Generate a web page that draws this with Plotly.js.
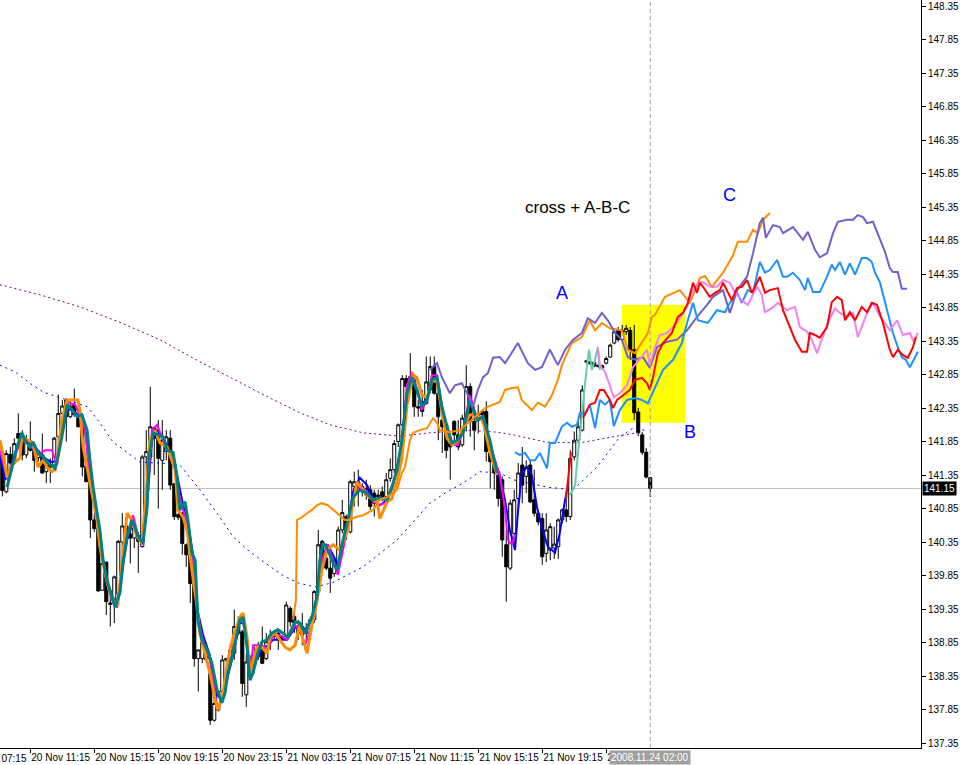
<!DOCTYPE html>
<html><head><meta charset="utf-8">
<script src="https://cdn.plot.ly/plotly-3.0.1.min.js"></script>
<style>html,body{margin:0;padding:0;background:#fff;}#chart{width:960px;height:765px;}</style>
</head><body><div id="chart"></div>
<script>
// ---- candles (15-minute bars) ----
const openP = [141.68,141.10,141.66,141.53,141.97,141.88,141.65,141.86,141.75,141.61,
141.65,141.40,141.50,141.50,141.92,142.27,142.47,142.22,142.40,142.26,
142.08,141.48,141.25,140.68,140.56,139.63,140.05,139.42,139.44,139.58,
140.35,140.59,140.47,140.41,140.41,140.28,141.62,141.62,142.06,141.97,
141.57,141.70,141.90,141.22,140.76,140.78,140.31,140.16,139.73,138.61,
138.61,138.59,138.39,137.69,137.84,138.12,138.61,138.61,138.69,139.11,
139.01,138.07,138.55,138.51,138.64,138.79,138.61,138.86,138.94,138.99,
138.94,138.94,139.36,139.24,138.99,139.09,138.99,139.06,139.19,139.61,
140.36,140.11,139.96,139.88,139.98,140.53,140.73,140.50,141.18,141.25,
141.18,141.05,141.13,141.08,141.05,141.10,141.03,141.30,141.43,141.85,
142.10,142.79,142.69,142.77,142.37,142.42,142.42,142.62,142.97,142.57,
142.17,142.10,141.87,142.15,141.95,141.80,142.20,142.67,142.15,142.17,
142.30,142.30,141.68,141.55,141.40,141.28,140.31,139.96,140.48,141.00,
141.50,141.33,141.50,140.98,140.78,140.70,140.18,140.23,140.26,140.28,
140.68,140.83,140.73,141.62,141.87,142.02,143.04,143.04,143.03,142.99,
142.98,143.02,143.11,143.32,143.51,143.37,143.49,143.51,143.22,142.29,
141.95,141.69,141.31];
const highP = [141.77,141.72,141.77,141.90,142.27,142.02,141.95,142.15,141.80,141.70,
141.97,141.57,141.60,141.92,142.55,142.47,142.50,142.47,142.64,142.37,
142.27,141.50,141.28,140.78,140.58,140.18,140.06,139.58,139.85,140.38,
140.78,140.73,140.53,140.68,140.50,141.65,142.02,142.67,142.07,142.17,
142.17,142.02,142.02,141.23,140.78,140.80,140.33,140.18,139.78,138.74,
138.91,138.66,138.42,138.07,138.14,138.66,138.62,138.84,139.34,139.24,
139.04,138.69,138.66,138.79,138.86,139.09,138.99,139.04,139.04,139.06,
138.96,139.46,139.39,139.29,139.19,139.29,139.14,139.24,139.63,140.53,
140.38,140.33,140.13,140.13,140.58,140.98,140.76,141.28,141.40,141.43,
141.23,141.28,141.20,141.13,141.13,141.18,141.38,141.60,141.87,142.12,
142.84,142.84,143.17,142.79,142.47,142.62,143.12,143.12,143.12,142.62,
142.22,142.12,141.97,142.17,142.17,142.25,142.99,142.72,142.37,142.40,
142.32,142.45,141.77,141.57,141.45,141.33,140.53,140.98,141.13,141.53,
141.77,141.57,141.57,141.43,140.80,140.78,140.78,140.63,140.58,140.70,
140.85,140.98,141.72,142.00,142.15,142.69,143.07,143.06,143.04,143.00,
143.00,143.12,143.31,143.54,143.56,143.59,143.59,143.56,143.59,142.35,
141.99,141.75,141.31];
const lowP = [141.03,141.08,141.35,141.50,141.87,141.57,141.60,141.70,141.40,141.55,
141.37,141.23,141.23,141.47,141.80,142.25,141.85,142.20,142.22,142.07,
141.33,141.25,140.41,140.50,139.61,139.62,139.26,139.09,139.14,139.54,
140.18,140.28,140.03,140.26,139.89,140.27,141.33,141.50,141.35,140.85,
141.13,141.57,141.13,140.68,140.68,140.16,139.98,139.44,138.49,138.12,
138.54,138.54,137.62,137.67,137.82,138.09,138.55,138.59,138.59,138.96,
138.04,137.89,138.34,138.39,138.59,138.54,138.59,138.74,138.89,138.74,
138.89,138.91,139.09,138.99,138.89,138.81,138.86,138.89,139.14,139.59,
139.98,139.93,139.59,139.83,139.93,140.48,140.38,140.48,140.88,140.88,
141.03,140.98,140.83,140.73,140.98,140.96,140.98,141.25,141.38,141.77,
142.07,142.37,142.62,142.22,142.22,142.22,142.40,142.57,142.55,141.87,
141.68,141.60,141.28,141.85,141.72,141.77,142.00,141.92,141.72,141.97,
142.12,141.55,141.15,141.13,140.88,140.13,139.46,139.93,140.28,140.78,
140.93,141.08,140.93,140.73,140.60,140.01,140.05,140.08,140.10,140.10,
140.63,140.65,140.68,141.57,141.82,142.00,143.02,142.99,142.96,142.95,
142.92,143.00,143.10,143.30,143.34,143.34,143.44,143.07,142.17,141.93,
141.65,141.30,141.02];
const closeP = [141.12,141.67,141.53,141.82,141.90,141.65,141.87,141.72,141.57,141.68,
141.38,141.50,141.47,141.90,142.27,142.38,142.22,142.38,142.25,142.07,
141.47,141.25,140.68,140.55,139.62,140.03,139.46,139.44,139.83,140.36,
140.59,140.48,140.41,140.56,140.36,141.62,141.70,142.07,141.90,141.60,
141.87,141.92,141.20,140.73,140.72,140.33,140.16,139.73,138.61,138.74,
138.86,138.64,137.69,137.94,138.12,138.59,138.59,138.74,139.09,138.99,
138.24,138.56,138.49,138.64,138.79,138.54,138.86,138.96,138.99,138.89,
138.91,139.41,139.16,139.14,139.09,138.96,139.05,139.19,139.61,140.31,
140.06,139.96,139.81,140.08,140.53,140.79,140.53,141.25,141.25,141.10,
141.10,141.15,140.88,140.93,141.03,141.03,141.28,141.43,141.82,142.10,
142.79,142.67,142.82,142.37,142.35,142.30,142.74,142.97,142.57,142.22,
142.07,141.72,141.77,141.95,141.77,142.20,142.67,142.15,142.02,142.27,
142.25,141.70,141.55,141.38,141.00,140.38,139.98,140.93,140.98,141.38,
141.20,141.47,140.95,140.78,140.65,140.13,140.53,140.58,140.32,140.68,
140.83,140.73,141.60,141.87,142.07,142.62,143.05,143.01,142.98,142.97,
142.95,143.09,143.29,143.49,143.37,143.51,143.54,143.21,142.28,141.98,
141.69,141.32,141.15];

// ---- time axis ----
const tickBars = [7,23,39,55,71,87,103,119,135,151];
const tickText = ["20 Nov 11:15","20 Nov 15:15","20 Nov 19:15","20 Nov 23:15","21 Nov 03:15",
                  "21 Nov 07:15","21 Nov 11:15","21 Nov 15:15","21 Nov 19:15","21 Nov 23:15"];
const cutLabel = "20 Nov 07:15";
const crossLabel = "2008.11.24 02:00";
const crossBar = 162;
const lastPrice = 141.15;

// ---- dotted averages ----
const purpleDotX = [-0.6,9.4,19.4,29.4,39.4,49.4,58.2,66.9,74.4,81.9,90.2,99.4,106.9,115.7,123.7,127.7,136.2,144.4,152.7,156.9,159.4];
const purpleDotY = [144.19,144.04,143.86,143.63,143.37,143.04,142.77,142.50,142.28,142.10,141.98,141.93,141.98,142.02,141.99,141.95,141.84,141.83,141.92,141.96,141.99];
const blueDotX = [-0.6,3.2,6.9,10.2,16.2,21.2,24.4,27.7,31.2,34.4,39.4,44.4,49.4,53.7,57.7,61.4,65.7,69.9,73.9,78.2,82.4,90.2,98.7,106.9,111.2,115.2,119.4,124.4,127.7,136.2,142.7,148.7,154.4,157.7,161.2];
const blueDotY = [142.99,142.89,142.72,142.59,142.47,142.37,142.13,141.84,141.69,141.54,141.53,141.50,141.13,140.78,140.43,140.23,140.04,139.86,139.74,139.68,139.74,139.98,140.38,140.93,141.10,141.23,141.40,141.38,141.28,141.17,141.13,141.47,141.92,142.05,142.01];

// ---- near-price lines ----
const tealX = [1.2,1.9,2.7,3.7,4.9,5.7,6.9,7.7,8.9,10.2,11.4,13.2,13.9,14.9,16.2,17.4,18.7,19.9,21.2,21.9,22.7,23.7,24.4,25.2,26.2,26.9,28.2,29.4,30.2,31.2,32.4,33.2,33.9,35.2,36.2,36.7,37.7,38.9,40.2,41.2,42.7,43.7,44.4,45.7,46.4,47.4,48.2,48.9,49.9,51.2,52.4,53.7,54.9,55.7,56.4,57.7,59.4,60.2,61.2,61.9,62.7,63.9,64.9,66.2,67.4,68.9,70.2,71.4,73.2,74.4,75.7,77.4,78.7,79.4,80.2,81.4,82.7,83.7,85.2,86.4,87.7,89.4,91.2,92.7,94.4,96.2,97.4,98.7,99.9,101.2,102.4,103.7,104.9,106.2,107.4,108.7,109.9,111.2,112.4,113.9,115.2,116.9,118.7,120.2,121.9,123.7];
const tealY = [141.17,141.32,141.53,141.77,141.98,141.87,141.77,141.84,141.69,141.62,141.53,141.45,141.62,141.92,142.40,142.32,142.22,142.25,142.02,141.57,141.17,140.78,140.53,140.08,139.78,139.63,139.38,139.59,140.04,140.43,140.68,140.57,140.43,140.34,140.87,141.62,141.98,141.95,141.92,141.72,141.69,141.32,140.83,140.95,140.68,140.19,140.08,139.19,138.89,138.74,138.54,138.14,137.95,138.10,138.40,138.69,139.19,139.23,138.78,138.29,138.40,138.69,138.86,138.89,138.99,139.04,138.99,138.93,139.16,139.14,138.99,139.23,139.53,140.08,140.34,140.23,140.04,139.93,140.38,140.68,141.02,141.13,141.08,140.98,141.01,140.98,141.17,141.43,141.87,142.57,142.81,142.62,142.37,142.47,142.77,142.81,142.37,142.07,141.83,141.87,141.98,142.47,142.17,142.22,141.87,141.38];
const orangeNearX = [-0.6,0.2,1.2,2.4,3.7,4.4,4.9,6.4,7.7,8.9,10.2,11.2,12.4,13.2,13.9,14.9,16.2,18.9,19.4,20.2,21.4,22.4,23.7,24.4,25.7,26.9,28.2,28.9,29.9,31.2,32.4,33.7,34.9,35.7,36.9,38.2,39.4,41.2,43.2,43.9,45.2,46.2,47.4,48.7,49.4,50.7,51.9,53.2,53.9,55.2,56.4,57.7,59.4,60.2,61.2,61.9,63.7,64.9,66.2,66.9,68.2,69.4,70.7,71.9,73.2,74.4,75.2,76.2,77.4,78.7,79.9,81.2,82.7,84.4,86.4,88.7,90.2,91.7,93.7,94.4,96.2,97.4,98.7,99.9,101.2,102.7,103.7,104.9,106.2,107.4,108.7,109.9,111.2,112.4,113.9,115.2,116.9,118.7,120.2,121.9,123.7];
const orangeNearY = [141.87,141.65,141.31,141.50,141.57,141.60,141.92,141.87,141.83,141.47,141.57,141.47,141.40,141.43,141.68,142.17,142.47,142.47,142.32,141.77,141.38,141.08,140.68,140.28,139.89,139.59,139.44,139.44,139.98,140.78,140.68,140.43,140.34,140.87,141.87,142.02,141.83,141.77,141.43,140.83,140.72,140.53,139.93,139.38,138.99,138.69,138.40,137.99,137.84,138.10,138.59,138.93,139.23,139.29,138.93,138.40,138.78,138.78,138.69,138.93,138.99,138.89,138.78,138.74,138.81,139.11,138.89,138.69,139.11,139.48,139.93,140.23,140.31,140.23,140.53,141.25,141.12,141.02,140.95,140.70,140.95,141.00,141.25,141.60,142.40,142.85,142.80,142.55,142.50,142.75,142.75,142.30,141.90,141.80,141.85,142.05,142.25,142.25,142.15,141.70,141.35];
const magentaX = [-0.6,0.7,1.9,3.2,4.9,6.9,8.9,10.7,12.4,13.7,14.9,16.2,18.2,19.4,20.7,21.4,22.4,23.7,24.9,26.2,27.4,28.7,29.9,31.2,32.7,33.9,35.2,36.2,37.4,38.7,40.2,41.4,42.7,43.9,45.2,46.4,47.7,48.9,50.2,51.9,53.7,54.9,56.2,57.7,59.4,60.7,61.9,62.7,64.9,66.4,67.7,69.4,71.2,73.2,74.4,75.7,77.4,78.7,79.9,81.4,82.7,83.9,85.2,86.4,87.7,89.4,91.2,92.7,94.4,96.2,97.4,98.7,99.9,101.2,102.4,103.7,104.9,106.2,107.4,108.7,109.9,111.2,112.4,113.9,115.2,116.9,118.7,120.2,121.9,123.2,124.4,125.7,126.4,127.4,128.2];
const magentaY = [141.72,141.43,141.35,141.65,141.87,141.80,141.65,141.72,141.72,141.50,142.02,142.44,142.40,142.25,142.02,141.57,141.05,140.68,140.16,139.71,139.49,139.37,139.86,140.46,140.75,140.46,140.31,140.98,142.02,142.10,141.87,141.72,141.65,141.13,140.83,140.60,140.08,139.19,138.89,138.59,137.87,137.99,138.37,138.74,139.19,139.11,138.37,138.81,138.81,138.74,138.96,138.96,138.89,139.11,139.04,138.81,139.11,139.49,140.08,140.31,140.08,139.86,140.23,140.57,140.98,141.20,141.10,140.95,140.90,140.95,141.13,141.43,141.87,142.69,142.89,142.62,142.32,142.47,142.84,142.84,142.40,142.02,141.80,141.80,142.02,142.54,142.20,142.17,141.80,141.57,141.35,140.83,140.38,140.31,140.46];
const blueX = [-0.6,0.7,1.9,3.2,4.9,6.9,8.9,10.7,12.4,13.7,14.9,16.2,18.2,19.4,20.7,21.4,22.4,23.7,24.9,26.2,27.4,28.7,29.9,31.2,32.7,33.9,35.2,36.2,37.4,38.7,40.2,41.4,42.7,43.9,45.2,46.4,47.7,48.9,50.2,51.9,53.7,54.9,56.2,57.7,59.4,60.7,61.9,62.7,64.9,66.4,67.7,69.4,71.2,73.2,74.4,75.7,77.4,78.7,79.9,81.4,82.7,83.9,85.2,86.4,87.7,89.4,91.2,92.7,94.4,96.2,97.4,98.7,99.9,101.2,102.4,103.7,104.9,106.2,107.4,108.7,109.9,111.2,112.4,113.9,115.2,116.9,118.7,120.2,121.9,123.2,124.4,125.7,126.9,128.2,128.9,129.9,131.2,132.4,133.7,134.9,136.4,138.2,139.4,140.7,141.2];
const blueY = [141.65,141.28,141.43,141.69,141.92,141.80,141.72,141.60,141.54,141.57,141.95,142.35,142.29,142.20,142.05,141.65,141.20,140.75,140.16,139.78,139.56,139.41,139.93,140.38,140.65,140.46,140.38,140.90,141.87,142.02,141.92,141.75,141.65,141.28,140.90,140.65,140.16,139.31,138.96,138.66,138.07,137.99,138.32,138.66,139.16,139.11,138.41,138.51,138.74,138.81,138.89,138.89,138.89,139.07,139.11,139.04,139.19,139.56,140.08,140.31,140.16,140.01,140.31,140.65,141.10,141.31,141.20,140.98,140.90,140.98,141.16,141.43,141.87,142.62,142.77,142.59,142.40,142.50,142.77,142.80,142.35,142.05,141.84,141.87,141.99,142.44,142.17,142.20,141.84,141.43,141.31,140.98,140.53,140.23,140.78,141.38,141.47,141.35,140.87,140.57,140.28,140.19,140.49,140.98,141.13];

// ---- projection lines ----
const orangeFarX = [72.7,73.4,73.7,74.9,76.2,77.4,78.7,79.9,81.4,82.7,84.4,85.7,86.9,88.2,90.2,92.7,94.4,96.2,98.7,99.9,100.7,101.9,102.7,104.4,106.2,107.7,108.7,109.4,111.9,114.4,116.9,118.7,120.7,122.7,124.4,125.7,127.4,128.9,129.9,132.4,133.9,135.7,137.4,138.9,139.9,142.4,144.9,146.9,148.2,149.9,151.9,154.9,156.4,158.2,159.9,161.4,162.4,163.2,165.7,169.4,171.9,174.4,175.7,177.4,180.2,182.7,183.9,186.2,187.7,188.9,190.2,191.9];
const orangeFarY = [139.19,139.48,140.68,140.72,140.78,140.83,140.90,140.93,140.90,140.83,140.75,140.68,140.68,140.72,140.75,140.83,140.98,141.02,141.13,141.38,141.47,141.87,141.98,142.02,142.05,142.20,142.13,142.02,141.99,142.02,142.15,142.25,142.35,142.40,142.44,142.62,142.65,142.66,142.47,142.32,142.43,142.37,142.54,142.77,142.99,143.32,143.41,143.66,143.51,143.62,143.54,143.51,143.22,143.17,143.32,143.47,143.71,143.74,144.01,144.11,143.92,144.29,144.32,144.16,144.37,144.63,144.83,144.83,145.01,144.96,145.16,145.26];
const purpleX = [106.9,108.7,109.9,111.9,113.2,114.9,116.2,117.7,118.9,120.2,121.4,122.7,124.4,125.7,128.9,131.4,133.2,134.9,136.9,138.9,140.7,142.7,144.9,146.4,148.2,149.9,151.4,153.2,154.9,156.4,158.2,160.2,161.9,163.7,166.2,168.7,171.2,173.7,176.2,177.7,180.2,181.9,183.7,186.2,187.7,189.4,190.2,190.9,192.7,194.4,195.2,197.7,200.2,201.4,203.2,204.4,206.2,207.7,208.9,211.2,212.7,213.9,215.2,216.2,217.7,219.4,220.7,221.9,222.7,223.9,224.9,226.2];
const purpleY = [142.92,143.02,142.81,142.57,142.69,142.72,142.57,142.37,142.62,142.81,142.87,143.10,143.11,143.02,143.32,143.02,142.92,142.96,143.22,142.99,143.22,143.37,143.47,143.69,143.62,143.77,143.66,143.47,143.37,143.11,143.07,143.11,142.95,143.26,143.34,143.37,143.51,143.71,143.89,144.01,144.11,143.77,144.11,144.31,144.66,145.11,145.19,144.89,145.08,145.05,144.96,145.05,144.86,144.98,144.71,144.60,144.66,144.96,145.13,145.16,145.16,145.23,145.20,145.11,145.13,144.86,144.68,144.44,144.38,144.38,144.13,144.13];
const dodgerX = [128.2,129.4,130.7,131.9,133.2,134.4,136.2,136.9,138.2,139.9,141.2,142.4,143.7,144.4,145.7,146.9,148.2,149.4,150.7,151.9,152.9,154.4,156.2,158.2,159.9,161.4,162.7,165.2,167.7,169.9,171.2,172.7,173.9,176.4,178.7,180.7,181.9,183.7,184.9,186.4,187.7,189.4,190.7,191.9,193.7,195.2,196.2,197.7,199.4,200.7,201.4,202.7,204.4,206.2,207.4,208.2,209.4,210.7,211.9,213.2,214.9,216.2,217.4,218.2,219.4,221.2,222.7,223.9,224.9,225.9,226.9,227.9,228.9];
const dodgerY = [141.69,141.65,141.68,141.57,141.57,141.68,141.45,141.83,141.83,142.07,142.13,142.07,142.10,142.28,142.25,142.40,142.05,142.47,142.40,142.47,142.08,142.32,142.47,142.50,142.47,142.42,142.59,142.92,143.07,143.32,143.62,143.92,143.66,143.62,143.81,143.78,143.92,144.07,143.92,144.11,144.07,144.53,144.37,144.41,144.56,144.31,144.31,144.37,144.26,144.11,144.29,144.08,144.08,144.31,144.49,144.41,144.53,144.34,144.51,144.34,144.59,144.59,144.53,144.37,144.23,143.81,143.47,143.26,143.11,143.07,142.96,143.07,143.19];
const redX = [140.9,141.4,142.2,143.5,145.2,146.2,146.9,148.2,149.4,150.4,151.2,151.9,152.7,153.7,155.2,156.9,158.2,159.9,161.2,161.9,162.7,163.9,165.2,167.4,168.9,170.2,171.4,172.7,173.7,174.4,175.2,176.9,178.2,179.4,180.2,181.4,182.4,183.7,184.9,186.2,187.4,188.2,189.4,190.7,191.9,193.9,195.2,196.9,198.2,199.9,201.2,201.9,203.2,204.4,206.2,207.4,208.7,209.9,210.7,211.9,213.2,214.9,216.2,217.4,218.7,220.2,221.9,222.7,223.9,225.2,226.4,227.7,228.4];
const redY = [140.98,141.28,141.69,null,142.21,142.32,142.40,142.43,142.62,142.62,142.54,142.47,142.35,142.47,142.54,142.62,142.77,142.80,142.72,142.62,142.81,143.17,143.32,143.47,143.71,143.77,143.92,144.22,144.07,144.22,144.16,144.01,144.07,144.11,144.22,144.07,143.96,144.14,144.16,144.26,144.07,144.16,144.31,144.07,144.11,144.14,143.81,143.56,143.37,143.19,143.19,143.47,143.44,143.40,143.56,143.93,144.01,143.96,143.66,143.78,143.66,143.86,143.78,143.92,143.89,143.62,143.22,143.11,143.22,143.14,143.10,143.26,143.41];
const violetX = [148.9,149.4,150.7,151.9,152.9,154.4,156.2,157.7,158.9,160.2,161.2,161.9,163.2,164.4,166.2,167.7,169.4,171.2,172.7,174.4,175.2,176.9,178.7,180.2,181.9,183.2,184.9,186.4,188.7,189.9,190.7,192.4,193.9,195.2,196.2,198.2,199.4,201.2,202.4,203.7,204.9,206.4,208.2,209.4,211.2,212.7,213.9,214.9,216.2,217.7,219.4,220.7,221.9,223.7,225.2,226.9,227.9,228.9];
const violetY = [143.25,142.99,142.89,142.69,142.51,142.57,142.69,142.96,143.04,143.14,143.22,142.99,143.26,143.44,143.47,143.56,143.69,143.86,144.11,144.22,144.23,144.16,144.16,144.26,144.22,144.07,143.96,143.89,144.16,144.04,143.78,143.84,143.92,143.86,143.81,143.86,143.56,143.49,143.37,143.17,143.37,143.62,143.84,143.77,143.71,143.77,143.41,143.56,143.77,143.92,143.72,143.62,143.51,143.66,143.44,143.47,143.34,143.47];
const aquaX = [141.9,143.2,143.9,144.7,145.4,146.2,146.7,147.4,148.2,148.9,149.4];
const aquaY = [141.05,141.20,141.65,142.17,142.54,142.99,143.22,142.92,143.07,143.26,142.92];

// ---- drawn objects / labels ----
const boxBars = [154.9, 170.7];
const boxPrices = [142.13, 143.89];
const notes = [
  {text:"cross + A-B-C", bar:143.9, price:145.34, color:"#000000", size:17},
  {text:"A", bar:139.9, price:144.07, color:"#0000ff", size:18},
  {text:"B", bar:171.9, price:141.99, color:"#0000ff", size:18},
  {text:"C", bar:181.9, price:145.53, color:"#0000ff", size:18}
];

const FONT = 'Liberation Sans, Arial, sans-serif';
const barIdx = openP.map((_, i) => i);
function line(x, y, color, width, dash) {
  return {type:'scatter', mode:'lines', x:x, y:y, hoverinfo:'skip', connectgaps:false,
          line:{color:color, width:width, dash:dash || 'solid'}};
}

const traces = [
  {type:'candlestick', x:barIdx, open:openP, high:highP, low:lowP, close:closeP,
   increasing:{line:{color:'#000000', width:1}, fillcolor:'#ffffff'},
   decreasing:{line:{color:'#000000', width:1}, fillcolor:'#000000'},
   whiskerwidth:0, hoverinfo:'skip'},
  line(purpleDotX, purpleDotY, '#800080', 1, '2px,3px'),
  line(blueDotX, blueDotY, '#0000ff', 1, '2px,4px'),
  line(blueX, blueY, '#0000ff', 2),
  line(magentaX, magentaY, '#ff00ff', 2),
  line(orangeNearX, orangeNearY, '#ff8c00', 3),
  line(tealX, tealY, '#008080', 3),
  line(aquaX, aquaY, '#66cdaa', 2),
  line(orangeFarX, orangeFarY, '#ff8c00', 2),
  line(purpleX, purpleY, '#7060d0', 2),
  line(dodgerX, dodgerY, '#1e90ff', 2),
  line(violetX, violetY, '#ee82ee', 2),
  line(redX, redY, '#ff0000', 2)
];

const annotations = notes.map(n => ({
  x:n.bar, y:n.price, xref:'x', yref:'y', text:n.text, showarrow:false,
  font:{family:FONT, size:n.size, color:n.color}
}));
annotations.push({
  x:1, y:lastPrice, xref:'paper', yref:'y', text:lastPrice.toFixed(2), showarrow:false,
  xanchor:'left', yanchor:'middle', xshift:1, bgcolor:'#000000', borderpad:1,
  font:{family:FONT, size:10, color:'#ffffff'}
});
annotations.push({
  x:crossBar, y:0, xref:'x', yref:'paper', text:crossLabel, showarrow:false,
  xanchor:'center', yanchor:'top', yshift:-2, bgcolor:'#a0a0a0', borderpad:1,
  font:{family:FONT, size:10, color:'#ffffff'}
});
annotations.push({
  x:0, y:0, xref:'paper', yref:'paper', text:cutLabel, showarrow:false,
  xanchor:'left', yanchor:'top', xshift:-35, yshift:-3,
  font:{family:FONT, size:10, color:'#000000'}
});

const layout = {
  width:960, height:765,
  margin:{l:0, r:39, t:0, b:17, pad:0},
  paper_bgcolor:'#ffffff', plot_bgcolor:'#ffffff',
  font:{family:FONT, size:10, color:'#000000'},
  showlegend:false, hovermode:false,
  boxgap:0.15, boxgroupgap:0.1,
  xaxis:{type:'linear', range:[-0.575, 229.7], tickmode:'array', tickvals:tickBars, ticktext:tickText,
         tickangle:0, automargin:false,
         ticks:'outside', ticklen:4, tickcolor:'#000000', ticklabelposition:'outside right',
         showgrid:false, zeroline:false, showline:true, linecolor:'#000000', linewidth:1,
         rangeslider:{visible:false}, fixedrange:true},
  yaxis:{side:'right', range:[137.276, 148.44], tick0:137.35, dtick:0.5, tickformat:'.2f',
         automargin:false,
         ticks:'outside', ticklen:4, tickcolor:'#000000',
         showgrid:false, zeroline:false, showline:true, linecolor:'#000000', linewidth:1, fixedrange:true},
  shapes:[
    {type:'rect', xref:'x', yref:'y', x0:boxBars[0], x1:boxBars[1], y0:boxPrices[0], y1:boxPrices[1],
     fillcolor:'#ffff00', line:{width:0}, layer:'below'},
    {type:'line', xref:'paper', yref:'y', x0:0, x1:1, y0:lastPrice, y1:lastPrice,
     line:{color:'#c0c0c0', width:1}, layer:'below'},
    {type:'line', xref:'x', yref:'paper', x0:crossBar, x1:crossBar, y0:0, y1:1,
     line:{color:'#a0a0a0', width:1, dash:'4px,3px'}, layer:'above'}
  ],
  annotations:annotations
};

Plotly.newPlot('chart', traces, layout, {staticPlot:true, displayModeBar:false});
</script>
</body></html>
